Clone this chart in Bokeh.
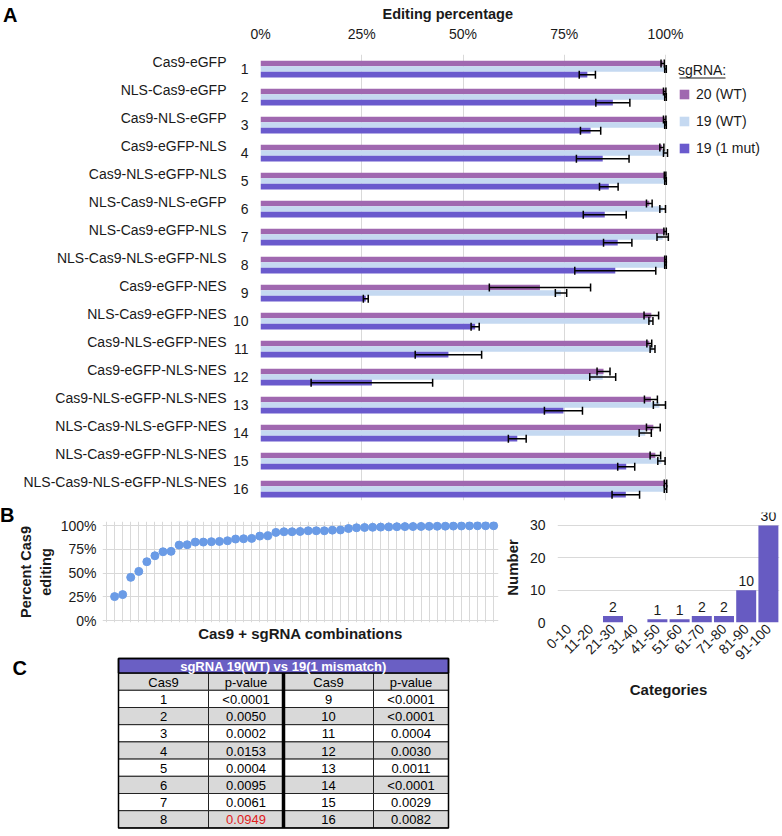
import math
from bokeh.plotting import figure
from bokeh.models import (Range1d, FixedTicker, LinearAxis, Legend, LegendItem, Whisker,
                          TeeHead, ColumnDataSource, FactorRange, NumeralTickFormatter, Div)
from bokeh.layouts import column, row
from bokeh.embed import file_html
from bokeh.resources import INLINE
from bokeh.core.properties import value

FONT = "Liberation Sans"
TXT = "#1a1a1a"
GRID = "#d9d9d9"
C20 = "#A068B0"
C19 = "#C5D9F1"
CMUT = "#6A5ACD"
CDOT = "#6A9BE6"
CHIST = "#675BC2"
TITLE_SIZE = "15px"

# ---------------- data: panel A ----------------
constructs = ["Cas9-eGFP", "NLS-Cas9-eGFP", "Cas9-NLS-eGFP", "Cas9-eGFP-NLS",
              "Cas9-NLS-eGFP-NLS", "NLS-Cas9-NLS-eGFP", "NLS-Cas9-eGFP-NLS",
              "NLS-Cas9-NLS-eGFP-NLS", "Cas9-eGFP-NES", "NLS-Cas9-eGFP-NES",
              "Cas9-NLS-eGFP-NES", "Cas9-eGFP-NLS-NES", "Cas9-NLS-eGFP-NLS-NES",
              "NLS-Cas9-NLS-eGFP-NES", "NLS-Cas9-eGFP-NLS-NES", "NLS-Cas9-NLS-eGFP-NLS-NES"]
construct_ids = list(range(1, 17))
wt20 = [0.993, 0.998, 0.998, 0.991, 0.999, 0.960, 0.999, 1.000, 0.690, 0.965, 0.960, 0.847,
        0.964, 0.970, 0.975, 1.000]
wt20_err = [0.004, 0.003, 0.003, 0.005, 0.002, 0.007, 0.003, 0.002, 0.125, 0.018, 0.006, 0.016,
            0.016, 0.017, 0.013, 0.003]
wt19 = [1.000, 1.000, 1.000, 1.000, 1.000, 0.993, 0.993, 1.000, 0.742, 0.964, 0.968, 0.845,
        0.985, 0.950, 0.990, 1.000]
wt19_err = [0.002, 0.002, 0.002, 0.005, 0.002, 0.007, 0.014, 0.002, 0.014, 0.005, 0.006, 0.032,
            0.015, 0.015, 0.009, 0.003]
mut19 = [0.807, 0.870, 0.815, 0.845, 0.860, 0.850, 0.882, 0.876, 0.260, 0.530, 0.464, 0.275,
         0.748, 0.634, 0.903, 0.902]
mut19_err = [0.020, 0.042, 0.025, 0.065, 0.023, 0.053, 0.035, 0.100, 0.006, 0.010, 0.082, 0.150,
             0.047, 0.022, 0.021, 0.034]
series_labels = ["20 (WT)", "19 (WT)", "19 (1 mut)"]
pct_ticks = [0, 0.25, 0.5, 0.75, 1.0]

# ---------------- data: panel B ----------------
sorted_editing = [0.253, 0.274, 0.456, 0.519, 0.621, 0.684, 0.726, 0.730, 0.796, 0.800,
                  0.828, 0.828, 0.832, 0.835, 0.842, 0.860, 0.863, 0.867, 0.891, 0.895,
                  0.930, 0.937, 0.937, 0.940, 0.947, 0.947, 0.947, 0.954, 0.956, 0.971,
                  0.979, 0.982, 0.984, 0.986, 0.988, 0.990, 0.991, 0.992, 0.993, 0.994,
                  0.995, 0.996, 0.997, 0.998, 0.999, 1.000, 1.000, 1.000]
hist_categories = ["0-10", "11-20", "21-30", "31-40", "41-50", "51-60", "61-70", "71-80",
                   "81-90", "91-100"]
hist_counts = [0, 0, 2, 0, 1, 1, 2, 2, 10, 30]
count_ticks = [0, 10, 20, 30]

# ---------------- data: panel C ----------------
table_title = "sgRNA 19(WT) vs 19(1 mismatch)"
table_headers = ["Cas9", "p-value", "Cas9", "p-value"]
cas9_left = ["1", "2", "3", "4", "5", "6", "7", "8"]
pval_left = ["<0.0001", "0.0050", "0.0002", "0.0153", "0.0004", "0.0095", "0.0061", "0.0949"]
cas9_right = ["9", "10", "11", "12", "13", "14", "15", "16"]
pval_right = ["<0.0001", "<0.0001", "0.0004", "0.0030", "0.0011", "<0.0001", "0.0029", "0.0082"]
not_significant = ["0.0949"]


def style_axes(p, size="14px"):
    p.axis.major_label_text_font = FONT
    p.axis.major_label_text_font_size = size
    p.axis.major_label_text_color = TXT
    p.axis.axis_label_text_font = FONT
    p.axis.axis_label_text_font_size = TITLE_SIZE
    p.axis.axis_label_text_font_style = "bold"
    p.axis.axis_label_text_color = TXT
    p.axis.axis_line_color = None
    p.axis.major_tick_line_color = None
    p.axis.minor_tick_line_color = None
    p.axis.major_tick_out = 0
    p.axis.major_tick_in = 0
    p.axis.minor_tick_out = 0
    p.axis.minor_tick_in = 0


def letter_div(txt, w, h, left, top):
    html = ('<div style="position:relative; left:%dpx; top:%dpx; font-family:\'%s\'; '
            'font-size:20px; font-weight:bold; line-height:1; color:black;">%s</div>'
            % (left, top, FONT, txt))
    return Div(text=html, width=w, height=h, margin=0)


# ================= Panel A =================
A_X0, A_PX = 258, 405.0          # page x of 0 %, px per 100 %
A_Y0, A_PY, A_TOP = 54, 28.0, 0.48
LET_A_W = 20
XMAX_A = 516 / A_PX
pA = figure(frame_width=516, frame_height=446, output_backend="svg", toolbar_location=None,
            x_range=Range1d(0, XMAX_A), y_range=Range1d(A_TOP + 446 / A_PY, A_TOP),
            x_axis_location="above", min_border_left=A_X0 - LET_A_W, min_border_right=8,
            min_border_top=54, min_border_bottom=5, outline_line_color=None)
pA.title.text = "Editing percentage"
pA.title.align = "left"
pA.title.offset = 122
pA.title.standoff = 2
pA.title.text_font = FONT
pA.title.text_font_size = "14.5px"
pA.title.text_font_style = "bold"
pA.title.text_color = TXT
pA.extra_y_ranges = {"names": Range1d(A_TOP + 446 / A_PY + 0.27, A_TOP + 0.27)}
names_axis = LinearAxis(y_range_name="names", ticker=FixedTicker(ticks=construct_ids),
                        major_label_overrides={i: n for i, n in zip(construct_ids, constructs)},
                        major_label_standoff=3)
pA.add_layout(names_axis, "left")
pA.xaxis.ticker = FixedTicker(ticks=pct_ticks)
pA.xaxis.formatter = NumeralTickFormatter(format="0%")
pA.xaxis.major_label_standoff = 13
pA.yaxis[0].ticker = FixedTicker(ticks=construct_ids)
pA.yaxis[0].major_label_standoff = 12
style_axes(pA)
pA.xgrid.ticker = FixedTicker(ticks=pct_ticks)
pA.xgrid.grid_line_color = GRID
pA.ygrid.visible = False

srcA = ColumnDataSource(dict(
    y20=[g - 0.2 for g in construct_ids], y19=construct_ids, ym=[g + 0.2 for g in construct_ids],
    v20=wt20, v19=wt19, vm=mut19,
    lo20=[v - e for v, e in zip(wt20, wt20_err)], hi20=[v + e for v, e in zip(wt20, wt20_err)],
    lo19=[v - e for v, e in zip(wt19, wt19_err)], hi19=[v + e for v, e in zip(wt19, wt19_err)],
    lom=[v - e for v, e in zip(mut19, mut19_err)], him=[v + e for v, e in zip(mut19, mut19_err)],
))
r20 = pA.hbar(y="y20", height=0.2, left=0, right="v20", source=srcA, fill_color=C20, line_color=None)
r19 = pA.hbar(y="y19", height=0.2, left=0, right="v19", source=srcA, fill_color=C19, line_color=None)
rm = pA.hbar(y="ym", height=0.2, left=0, right="vm", source=srcA, fill_color=CMUT, line_color=None)
for base, lo, hi in [("y20", "lo20", "hi20"), ("y19", "lo19", "hi19"), ("ym", "lom", "him")]:
    w = Whisker(source=srcA, base=base, lower=lo, upper=hi, dimension="width",
                line_color="black", line_width=1.5, level="annotation",
                upper_head=TeeHead(size=8, line_width=1.5, line_color="black"),
                lower_head=TeeHead(size=8, line_width=1.5, line_color="black"))
    pA.add_layout(w)
legend = Legend(items=[LegendItem(label=series_labels[0], renderers=[r20]),
                       LegendItem(label=series_labels[1], renderers=[r19]),
                       LegendItem(label=series_labels[2], renderers=[rm])],
                title="sgRNA:", location=(418, 344), margin=0, padding=6,
                title_text_font=FONT, title_text_font_size="14px", title_text_font_style="normal",
                title_text_color=TXT, title_standoff=8,
                label_text_font=FONT, label_text_font_size="14px", label_text_color=TXT,
                glyph_width=12, glyph_height=12, label_height=14, label_standoff=6,
                spacing=11, border_line_color=None, background_fill_alpha=0)
pA.add_layout(legend, "center")


def ax_x(px):
    return (px - A_X0) / A_PX


def ax_y(py):
    return A_TOP + (py - A_Y0) / A_PY


# underline of the legend title "sgRNA:"
pA.segment(x0=[ax_x(677)], y0=[ax_y(77.5)], x1=[ax_x(723)], y1=[ax_y(77.5)],
           line_color=TXT, line_width=1)

letA = letter_div("A", LET_A_W, 505, 3, 5)

# ================= Panel B (scatter) =================
B_XR = (-0.5, 48.6)
B_YR = (-0.02, 1.045)
LET_B_W = 14
pB = figure(frame_width=396, frame_height=101, output_backend="svg", toolbar_location=None,
            x_range=Range1d(*B_XR), y_range=Range1d(*B_YR),
            min_border_left=102 - LET_B_W, min_border_right=2, min_border_top=16,
            min_border_bottom=23, outline_line_color=None)
pB.xaxis.ticker = FixedTicker(ticks=[])
pB.xaxis.major_label_standoff = 0
pB.xaxis.axis_label = "Cas9 + sgRNA combinations"
pB.xaxis.axis_label_standoff = 2
pB.yaxis.ticker = FixedTicker(ticks=pct_ticks)
pB.yaxis.formatter = NumeralTickFormatter(format="0%")
pB.yaxis.axis_label = "Percent Cas9\nediting"
pB.yaxis.major_label_standoff = 6
pB.yaxis.axis_label_standoff = 4
style_axes(pB)
pB.yaxis.axis_label_text_font_size = "14.5px"
pB.xgrid.ticker = FixedTicker(ticks=list(range(len(sorted_editing) + 1)))
pB.ygrid.ticker = FixedTicker(ticks=pct_ticks)
pB.grid.grid_line_color = GRID
srcB = ColumnDataSource(dict(idx=list(range(1, len(sorted_editing) + 1)), val=sorted_editing))
pB.scatter(x="idx", y="val", source=srcB, size=8, fill_color=CDOT, line_color=CDOT)

letB = letter_div("B", LET_B_W, 140, 0, 0)

# ================= Panel B (histogram) =================
pH = figure(frame_width=222, frame_height=110, output_backend="svg", toolbar_location=None,
            x_range=FactorRange(factors=hist_categories), y_range=Range1d(0, 34),
            min_border_left=56, min_border_right=4, min_border_top=7, min_border_bottom=78,
            outline_line_color=None)
srcH = ColumnDataSource(dict(cat=hist_categories, n=hist_counts))
pH.vbar(x="cat", top="n", width=0.9, source=srcH, fill_color=CHIST, line_color=None)
lab_cats = [c for c, n in zip(hist_categories, hist_counts) if n > 0]
lab_ns = [n for n in hist_counts if n > 0]
srcHL = ColumnDataSource(dict(cat=lab_cats, n=lab_ns, t=[str(n) for n in lab_ns]))
pH.text(x="cat", y="n", text="t", source=srcHL, text_align="center", text_baseline="bottom",
        y_offset=-4, text_font=value(FONT), text_font_size=value("14px"), text_color=TXT)
pH.yaxis.ticker = FixedTicker(ticks=count_ticks)
pH.ygrid.ticker = FixedTicker(ticks=count_ticks)
pH.ygrid.grid_line_color = GRID
pH.xgrid.visible = False
pH.xaxis.major_label_orientation = math.pi / 4
pH.xaxis.axis_label = "Categories"
pH.yaxis.axis_label = "Number"
pH.xaxis.major_label_standoff = 4
pH.xaxis.axis_label_standoff = 14
pH.yaxis.major_label_standoff = 12
pH.yaxis.axis_label_standoff = 6
style_axes(pH)

# ================= Panel C (table) =================
# frame = whole 500x187 canvas; table origin at page (118, 658)
col_edges = [0, 90, 165, 255, 330]
title_h = 14.6
row_h = 17.2
n_rows = len(cas9_left) + 1
table_bottom = title_h + n_rows * row_h
pC = figure(frame_width=500, frame_height=187, x_range=Range1d(-118, 382),
            y_range=Range1d(174, -13), min_border=0, toolbar_location=None,
            output_backend="svg", x_axis_location=None, y_axis_location=None,
            outline_line_color=None)
pC.grid.visible = False

ql, qr, qt, qb, qf = [], [], [], [], []
tx, ty, tt, tc = [], [], [], []
columns_txt = [cas9_left, pval_left, cas9_right, pval_right]
for r in range(n_rows):
    top = title_h + r * row_h
    fill = "#d9d9d9" if r % 2 == 0 else "white"
    for c in range(4):
        ql.append(col_edges[c]); qr.append(col_edges[c + 1])
        qt.append(top); qb.append(top + row_h); qf.append(fill)
        txt = table_headers[c] if r == 0 else columns_txt[c][r - 1]
        tx.append((col_edges[c] + col_edges[c + 1]) / 2)
        ty.append(top + row_h / 2 + 0.5)
        tt.append(txt)
        tc.append("#e0201b" if txt in not_significant else "black")
pC.quad(left=ql, right=qr, top=qt, bottom=qb, fill_color=qf, line_color="#222222", line_width=1)
pC.quad(left=[0], right=[330], top=[0], bottom=[title_h], fill_color="#6A5FC4",
        line_color="black", line_width=1.5)
pC.quad(left=[0], right=[330], top=[0], bottom=[table_bottom], fill_color=None,
        line_color="black", line_width=1.5)
pC.segment(x0=[165], y0=[title_h], x1=[165], y1=[table_bottom], line_color="black", line_width=3.5)
pC.text(x=tx, y=ty, text=tt, text_color=tc, text_align="center", text_baseline="middle",
        text_font=value(FONT), text_font_size=value("13px"))
pC.text(x=[165], y=[title_h / 2 + 0.5], text=[table_title], text_color="white",
        text_align="center", text_baseline="middle", text_font=value(FONT),
        text_font_size=value("13px"), text_font_style="bold")
pC.text(x=[12 - 118], y=[9], text=["C"], text_font=value(FONT), text_font_style="bold",
        text_font_size=value("20px"), text_baseline="alphabetic", text_align="left",
        text_color="black")

band1 = row(letA, pA)
band2 = row(column(row(letB, pB), pC), pH)
layout = column(band1, band2)
open("out.html", "w").write(file_html(layout, INLINE))
